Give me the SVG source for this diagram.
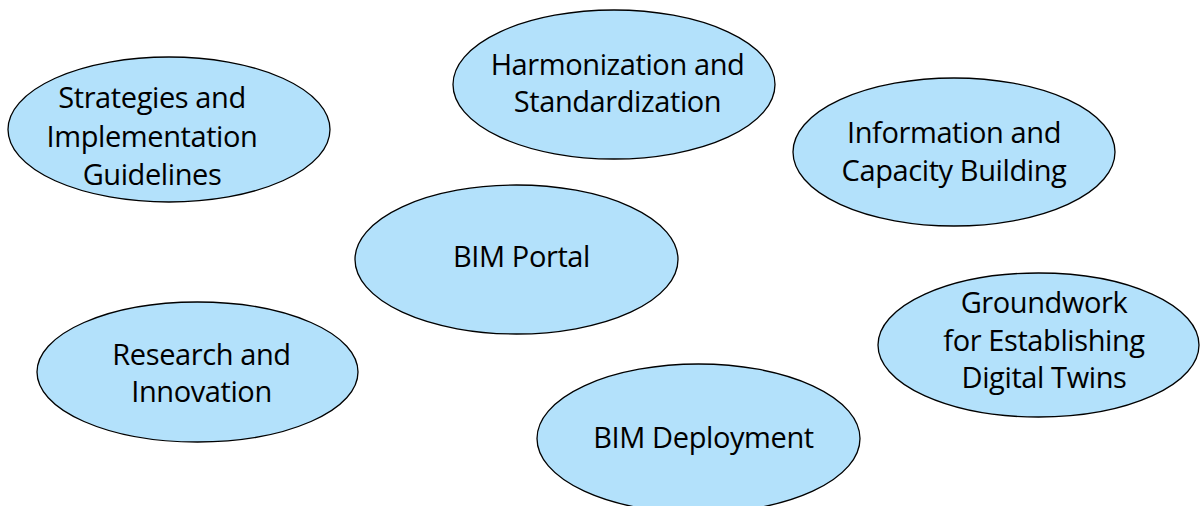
<svg xmlns="http://www.w3.org/2000/svg" width="1200" height="506" viewBox="0 0 1200 506">
<style>
.n{fill:#b3e1fb;stroke:#000;stroke-width:1.3}
.t{font-family:"Open Sans","Liberation Sans",sans-serif;font-size:29px;letter-spacing:-0.4px;fill:#000;text-anchor:middle}
</style>
<rect width="1200" height="506" fill="#fff"/>
<g id="connectors"></g>
<g id="strategies">
<ellipse class="n" cx="169" cy="129.5" rx="161" ry="72.5"/>
<text class="t" x="152" y="108">Strategies and</text>
<text class="t" x="152" y="146.5">Implementation</text>
<text class="t" x="152" y="185">Guidelines</text>
</g>
<g id="harmonization">
<ellipse class="n" cx="614" cy="84.5" rx="161" ry="74.5"/>
<text class="t" x="617.5" y="75">Harmonization and</text>
<text class="t" x="617.5" y="112">Standardization</text>
</g>
<g id="information">
<ellipse class="n" cx="954" cy="152" rx="161" ry="74"/>
<text class="t" x="954" y="143">Information and</text>
<text class="t" x="954" y="181">Capacity Building</text>
</g>
<g id="bim-portal">
<ellipse class="n" cx="516.5" cy="259.5" rx="161.5" ry="74.5"/>
<text class="t" x="521.5" y="266.5">BIM Portal</text>
</g>
<g id="research">
<ellipse class="n" cx="197.5" cy="372" rx="160.5" ry="70"/>
<text class="t" x="201.5" y="365">Research and</text>
<text class="t" x="201.5" y="402">Innovation</text>
</g>
<g id="groundwork">
<ellipse class="n" cx="1038.5" cy="345" rx="160.5" ry="72"/>
<text class="t" x="1044" y="313">Groundwork</text>
<text class="t" x="1044" y="351">for Establishing</text>
<text class="t" x="1044" y="388">Digital Twins</text>
</g>
<g id="bim-deployment">
<ellipse class="n" cx="698.5" cy="438.5" rx="161.5" ry="74.5"/>
<text class="t" x="703.5" y="448">BIM Deployment</text>
</g>
</svg>
